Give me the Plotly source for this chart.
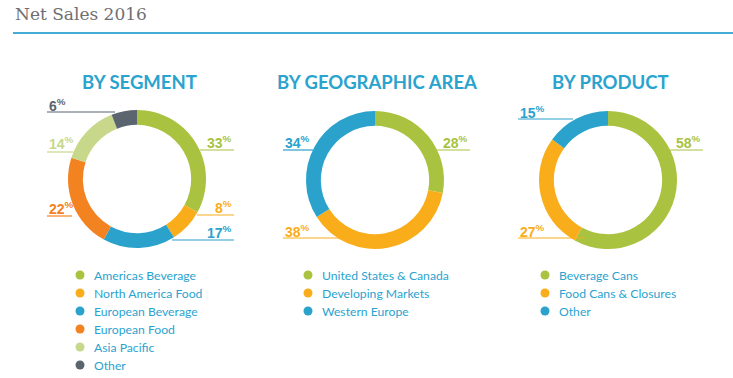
import plotly.graph_objects as go

W, H = 733, 378

title_text = "Net Sales 2016"
section_titles = ["BY SEGMENT", "BY GEOGRAPHIC AREA", "BY PRODUCT"]

seg_labels = ["Americas Beverage", "North America Food", "European Beverage",
              "European Food", "Asia Pacific", "Other"]
seg_values = [33, 8, 17, 22, 14, 6]
seg_colors = ["#a9c23f", "#f9ad1a", "#2aa2cc", "#f38221", "#c7d88b", "#5a6570"]

geo_labels = ["United States & Canada", "Developing Markets", "Western Europe"]
geo_values = [28, 38, 34]
geo_colors = ["#a9c23f", "#f9ad1a", "#2aa2cc"]

prod_labels = ["Beverage Cans", "Food Cans & Closures", "Other"]
prod_values = [58, 27, 15]
prod_colors = ["#a9c23f", "#f9ad1a", "#2aa2cc"]

BLUE = "#2aa3cf"

# layout geometry (pixels)
centers = [(137, 179), (375, 180), (608, 180)]
R = 69
HOLE = 0.785

# label callouts per chart: (side, text_y, line_y, ring_x, outer_x)
callouts = [
    [("r", 142, 150, 200, 234), ("r", 207, 215, 197, 234), ("r", 232, 240, 172, 234),
     ("l", 208, 216, 72, 47), ("l", 143, 152, 73, 47), ("l", 105, 112, 115, 47)],
    [("r", 142, 150, 437, 470), ("l", 231, 238, 340, 283), ("l", 142, 150, 313, 283)],
    [("r", 142, 150, 670, 703), ("l", 231, 238, 583, 518), ("l", 112, 119, 573, 518)],
]

legend_x = [(80, 92), (308, 320), (545, 557)]
legend_y0 = 275
legend_dy = 18

def px(x):
    return x / W

def py(y):
    return 1 - y / H

fig = go.Figure()
shapes = []
annotations = []

datasets = [(seg_labels, seg_values, seg_colors),
            (geo_labels, geo_values, geo_colors),
            (prod_labels, prod_values, prod_colors)]

for i, (labels, values, colors) in enumerate(datasets):
    cx, cy = centers[i]
    fig.add_trace(go.Pie(
        labels=labels, values=values, hole=HOLE, sort=False,
        direction="clockwise", rotation=0,
        marker=dict(colors=colors, line=dict(width=0)),
        textinfo="none", hoverinfo="label+percent", showlegend=False,
        domain=dict(x=[px(cx - R), px(cx + R)], y=[py(cy + R), py(cy - R)]),
    ))
    # section title
    annotations.append(dict(
        x=px(cx + 2), y=py(82), xref="paper", yref="paper",
        text="<b>" + section_titles[i] + "</b>", showarrow=False,
        font=dict(family="Lato, Open Sans, sans-serif", size=18.5, color=BLUE),
        xanchor="center", yanchor="middle"))
    # callouts
    for (side, ty, ly, rx, ox), v, c in zip(callouts[i], values, colors):
        shapes.append(dict(type="line", xref="paper", yref="paper",
                           x0=px(rx), x1=px(ox), y0=py(ly), y1=py(ly),
                           line=dict(color=c, width=1.2)))
        annotations.append(dict(
            x=px(ox), y=py(ty), xref="paper", yref="paper",
            text="<b>%d<sup style='font-size:7px'>%%</sup></b>" % v, showarrow=False,
            font=dict(family="Liberation Sans Narrow, Arial Narrow, sans-serif",
                      size=14, color=c),
            xanchor="right" if side == "r" else "left", yanchor="middle"))
    # legend
    mx, tx = legend_x[i]
    for k, (lab, c) in enumerate(zip(labels, colors)):
        y = legend_y0 + k * legend_dy
        shapes.append(dict(type="circle", xref="paper", yref="paper",
                           x0=px(mx - 4.5), x1=px(mx + 4.5),
                           y0=py(y + 4.5), y1=py(y - 4.5),
                           fillcolor=c, line=dict(width=0)))
        annotations.append(dict(
            x=px(tx), y=py(y), xref="paper", yref="paper", text=lab,
            showarrow=False, xanchor="left", yanchor="middle",
            font=dict(family="Lato, sans-serif", size=12.2, color=BLUE)))

# title and rule
annotations.append(dict(
    x=px(13), y=py(14), xref="paper", yref="paper", text=title_text,
    showarrow=False, xanchor="left", yanchor="middle",
    font=dict(family="DejaVu Serif, serif", size=17, color="#6f6f72")))
shapes.append(dict(type="line", xref="paper", yref="paper",
                   x0=px(13), x1=1, y0=py(33), y1=py(33),
                   line=dict(color="#45acd6", width=2)))

fig.update_layout(
    width=W, height=H, margin=dict(l=0, r=0, t=0, b=0),
    paper_bgcolor="white", plot_bgcolor="white",
    shapes=shapes, annotations=annotations, showlegend=False,
)

fig.write_html("out.html", config={"displayModeBar": False},
               post_script="document.body.style.margin='0';document.body.style.overflow='hidden';")
